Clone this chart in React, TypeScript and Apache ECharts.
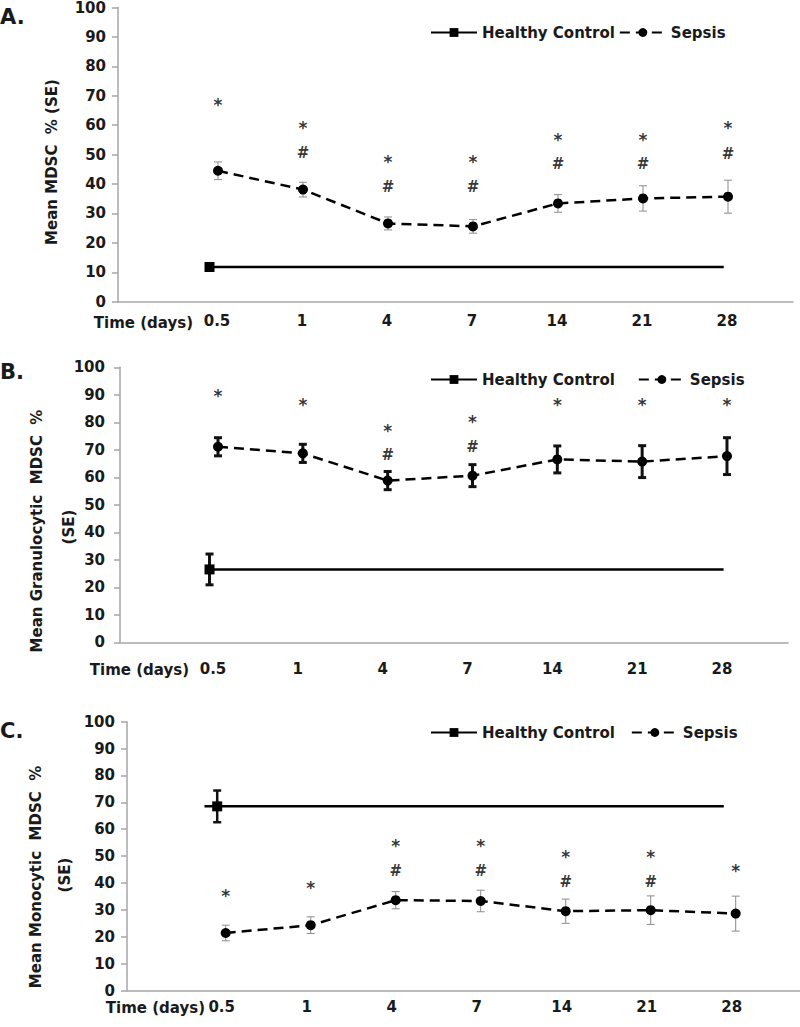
import React, { useEffect, useRef } from "react";
import * as echarts from "echarts";

// ---------- data ----------
const days = ["0.5", "1", "4", "7", "14", "21", "28"];
const dayIdx = [0, 1, 2, 3, 4, 5, 6];

// Panel A: Mean MDSC %
const sepsisA = [44.5, 38.1, 26.6, 25.6, 33.4, 35.1, 35.7];
const sepsisAErr = [3.0, 2.5, 2.2, 2.3, 3.0, 4.3, 5.6];
const healthyA = 11.8;
const healthyAErr = 0.6;
const starA = [68.2, 60.4, 48.9, 48.9, 56.4, 56.4, 60.4];
const hashA = [null, 50.5, 38.9, 39.1, 46.9, 46.9, 50.3];

// Panel B: Mean Granulocytic MDSC %
const sepsisB = [71.1, 68.7, 58.8, 60.6, 66.5, 65.7, 67.7];
const sepsisBErr = [3.3, 3.3, 3.3, 4.0, 4.9, 5.8, 6.7];
const healthyB = 26.5;
const healthyBErr = 5.6;
const starB = [91.1, 87.9, 78.4, 81.5, 87.9, 87.9, 87.9];
const hashB = [null, null, 68.1, 70.9, null, null, null];

// Panel C: Mean Monocytic MDSC %
const sepsisC = [21.4, 24.3, 33.6, 33.3, 29.5, 29.9, 28.6];
const sepsisCErr = [2.9, 3.1, 3.2, 4.0, 4.5, 5.3, 6.5];
const healthyC = 68.5;
const healthyCErr = 5.9;
const starC = [36.7, 39.8, 55.1, 55.1, 51.2, 51.2, 46.0];
const hashC = [null, null, 44.5, 44.5, 40.4, 40.4, null];

// ---------- layout ----------
const FONT = "DejaVu Sans";
const TXT = "#1a1a1a";
const AXIS = "#a6a6a6";

const panels = [
  {
    letter: "A.", letterY: 18,
    top: 6, bottom: 301.7, left: 118, right: 793, x0: 218, step: 85,
    xLabelMargin: 12, yLabelMargin: 12, xLabelShift: 2,
    timeX: 193, timeY: 323,
    yTitle: ["Mean MDSC  % (SE)"], yTitleX: [52], yTitleY: [162],
    legendY: 33, legendGap: 4,
    sepsis: sepsisA, sepsisErr: sepsisAErr, healthy: healthyA, healthyErr: healthyAErr,
    star: starA, hash: hashA,
    sepBarColor: "#8c8c8c", sepBarWidth: 1, hcBarColor: "#333", hcBarWidth: 1,
    hcStart: -0.1, hcMarker: -0.1, hcEnd: 5.95,
  },
  {
    letter: "B.", letterY: 373,
    top: 367.3, bottom: 642.3, left: 120, right: 788, x0: 218, step: 84.83,
    xLabelMargin: 19, yLabelMargin: 15, xLabelShift: 10,
    timeX: 189, timeY: 670,
    yTitle: ["Mean Granulocytic  MDSC  %", "(SE)"], yTitleX: [37, 69], yTitleY: [531, 527],
    legendY: 380, legendGap: 23,
    sepsis: sepsisB, sepsisErr: sepsisBErr, healthy: healthyB, healthyErr: healthyBErr,
    star: starB, hash: hashB,
    sepBarColor: "#111", sepBarWidth: 3, hcBarColor: "#111", hcBarWidth: 3,
    hcStart: -0.1, hcMarker: -0.1, hcEnd: 5.96,
  },
  {
    letter: "C.", letterY: 732,
    top: 721.7, bottom: 990.5, left: 127, right: 800, x0: 225.7, step: 85,
    xLabelMargin: 9, yLabelMargin: 12, xLabelShift: 8,
    timeX: 205, timeY: 1008,
    yTitle: ["Mean Monocytic  MDSC  %", "(SE)"], yTitleX: [36, 65], yTitleY: [877, 875],
    legendY: 733, legendGap: 16,
    sepsis: sepsisC, sepsisErr: sepsisCErr, healthy: healthyC, healthyErr: healthyCErr,
    star: starC, hash: hashC,
    sepBarColor: "#8c8c8c", sepBarWidth: 1, hcBarColor: "#111", hcBarWidth: 2.5,
    hcStart: -0.25, hcMarker: -0.1, hcEnd: 5.86,
  },
];

function errorBarRender(color: string, width: number, cap: number) {
  return (params: any, api: any) => {
    const x = api.value(0);
    const lo = api.value(1);
    const hi = api.value(2);
    const p1 = api.coord([x, hi]);
    const p2 = api.coord([x, lo]);
    const hw = cap / 2;
    const style = { stroke: color, lineWidth: width };
    return {
      type: "group",
      children: [
        { type: "line", shape: { x1: p1[0], y1: p1[1], x2: p2[0], y2: p2[1] }, style },
        { type: "line", shape: { x1: p1[0] - hw, y1: p1[1], x2: p1[0] + hw, y2: p1[1] }, style },
        { type: "line", shape: { x1: p2[0] - hw, y1: p2[1], x2: p2[0] + hw, y2: p2[1] }, style },
      ],
    };
  };
}

function buildOption() {
  const grid: any[] = [];
  const xAxis: any[] = [];
  const yAxis: any[] = [];
  const series: any[] = [];
  const legend: any[] = [];
  const graphic: any[] = [];

  panels.forEach((p, k) => {
    grid.push({ left: p.left, top: p.top, width: p.right - p.left, height: p.bottom - p.top, containLabel: false });
    xAxis.push({
      type: "value",
      gridIndex: k,
      min: (p.left - p.x0) / p.step,
      max: (p.right - p.x0) / p.step,
      splitLine: { show: false },
      axisTick: { show: false },
      axisLine: { show: true, onZero: false, lineStyle: { color: AXIS, width: 1.5 } },
      axisLabel: {
        customValues: dayIdx,
        formatter: (v: number) => days[Math.round(v)] ?? "",
        margin: p.xLabelMargin,
        fontFamily: FONT,
        fontWeight: "bold",
        fontSize: 15,
        color: TXT,
        padding: [0, p.xLabelShift, 0, 0],
      },
    });
    yAxis.push({
      type: "value",
      gridIndex: k,
      min: 0,
      max: 100,
      interval: 10,
      splitLine: { show: false },
      axisLine: { show: true, onZero: false, lineStyle: { color: AXIS, width: 1.5 } },
      axisTick: { show: true, length: 6, lineStyle: { color: AXIS, width: 1.5 } },
      axisLabel: {
        margin: p.yLabelMargin,
        fontFamily: FONT,
        fontWeight: "bold",
        fontSize: 15,
        color: TXT,
      },
    });

    // error bars
    series.push({
      type: "custom",
      xAxisIndex: k,
      yAxisIndex: k,
      z: 2,
      silent: true,
      renderItem: errorBarRender(p.sepBarColor, p.sepBarWidth, 8),
      encode: { x: 0, y: [1, 2] },
      data: dayIdx.map((i) => [i, p.sepsis[i] - p.sepsisErr[i], p.sepsis[i] + p.sepsisErr[i]]),
    });
    series.push({
      type: "custom",
      xAxisIndex: k,
      yAxisIndex: k,
      z: 2,
      silent: true,
      renderItem: errorBarRender(p.hcBarColor, p.hcBarWidth, 8),
      encode: { x: 0, y: [1, 2] },
      data: [[p.hcMarker, p.healthy - p.healthyErr, p.healthy + p.healthyErr]],
    });

    // healthy control line
    const hcData: any[] = [];
    if (p.hcStart < p.hcMarker) hcData.push({ value: [p.hcStart, p.healthy], symbol: "none" });
    hcData.push({ value: [p.hcMarker, p.healthy], symbol: "rect" });
    hcData.push({ value: [p.hcEnd, p.healthy], symbol: "none" });
    series.push({
      name: "Healthy Control",
      type: "line",
      xAxisIndex: k,
      yAxisIndex: k,
      z: 3,
      symbol: "rect",
      symbolSize: 10,
      itemStyle: { color: "#000" },
      lineStyle: { color: "#000", width: 2.5, type: "solid" },
      data: hcData,
    });

    // sepsis line
    series.push({
      name: "Sepsis",
      type: "line",
      xAxisIndex: k,
      yAxisIndex: k,
      z: 3,
      symbol: "circle",
      symbolSize: 10,
      itemStyle: { color: "#000" },
      lineStyle: { color: "#000", width: 2.5, type: [10, 6] },
      data: dayIdx.map((i) => [i, p.sepsis[i]]),
    });

    // significance markers
    const annot = (vals: (number | null)[], sym: string, dy: number, size: number) => ({
      type: "scatter",
      xAxisIndex: k,
      yAxisIndex: k,
      z: 4,
      silent: true,
      symbol: "circle",
      symbolSize: 1,
      itemStyle: { color: "rgba(0,0,0,0)" },
      label: {
        show: true,
        position: "inside",
        offset: [0, dy],
        formatter: (q: any) => q.value[2],
        fontFamily: FONT,
        fontWeight: "bold",
        fontSize: size,
        color: "#000",
      },
      data: dayIdx.filter((i) => vals[i] != null).map((i) => [i, vals[i], sym]),
    });
    series.push(annot(p.star, "*", 4, 17));
    series.push(annot(p.hash, "#", 0, 15));

    legend.push({
      left: 430,
      top: p.legendY - 8,
      padding: 0,
      itemGap: p.legendGap,
      itemWidth: 46,
      itemHeight: 11,
      selectedMode: false,
      data: ["Healthy Control", "Sepsis"],
      textStyle: { fontFamily: FONT, fontWeight: "bold", fontSize: 15, color: TXT },
    });

    graphic.push({
      type: "text",
      left: 0,
      top: p.letterY - 12,
      style: { text: p.letter, font: `bold 21px "${FONT}"`, fill: TXT },
    });
    graphic.push({
      type: "text",
      x: p.timeX,
      y: p.timeY,
      style: {
        text: "Time (days)",
        font: `bold 15px "${FONT}"`,
        fill: TXT,
        align: "right",
        verticalAlign: "middle",
      },
    });
    p.yTitle.forEach((t, j) => {
      graphic.push({
        type: "text",
        x: p.yTitleX[j],
        y: p.yTitleY[j],
        rotation: Math.PI / 2,
        style: {
          text: t,
          font: `bold 15px "${FONT}"`,
          fill: TXT,
          align: "center",
          verticalAlign: "middle",
        },
      });
    });
  });

  return {
    animation: false,
    backgroundColor: "#ffffff",
    grid,
    xAxis,
    yAxis,
    series,
    legend,
    graphic,
  };
}

export default function App() {
  const ref = useRef<HTMLDivElement>(null);
  useEffect(() => {
    if (!ref.current) return;
    const chart = echarts.init(ref.current, undefined, { renderer: "svg" });
    chart.setOption(buildOption() as any);
    return () => chart.dispose();
  }, []);
  return (
    <div
      ref={ref}
      style={{ position: "absolute", left: 0, top: 0, width: 800, height: 1027, background: "#fff" }}
    />
  );
}
